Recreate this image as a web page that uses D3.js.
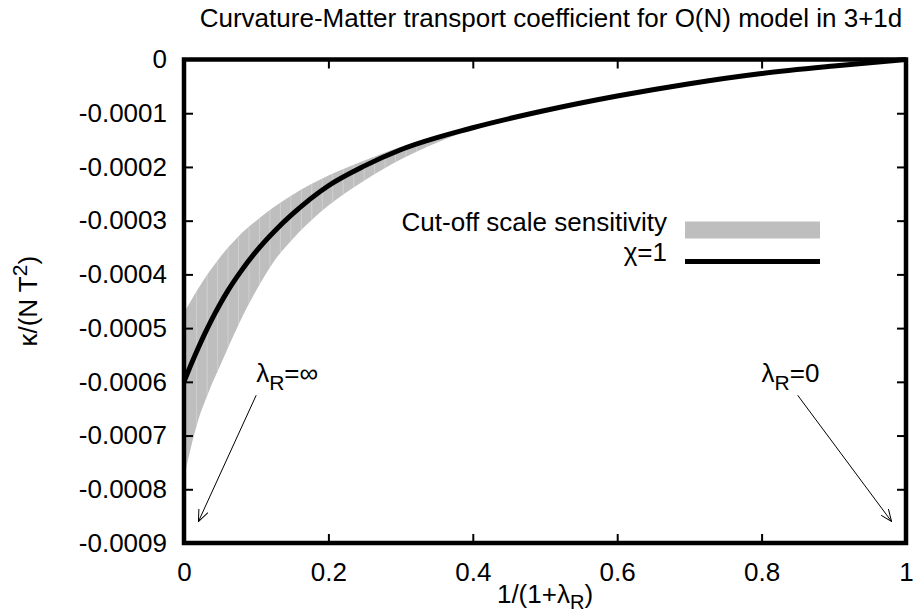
<!DOCTYPE html>
<html>
<head>
<meta charset="utf-8">
<script src="https://cdn.jsdelivr.net/npm/d3@7"></script>
<style>
  body { margin: 0; background: #fff; }
  svg { font-family: "Liberation Sans", Arial, Helvetica, sans-serif; }
  .tick line { stroke: #000; stroke-width: 2; }
  .tick text { font-size: 26px; fill: #000; }
</style>
</head>
<body>
<div id="chart"></div>
<script>

// curve chi=1, kappa/(N T^2) against 1/(1+lambda_R)
let curveX = [0, 0.01, 0.02, 0.03, 0.04, 0.05, 0.06, 0.08, 0.1, 0.125, 0.15, 0.2, 0.25, 0.3, 0.4, 0.5, 0.6, 0.7, 0.8, 0.9, 1];
let curveY = [-0.000600, -0.000567, -0.000536, -0.000507, -0.000480, -0.000455, -0.000432, -0.000392, -0.000357, -0.000320, -0.000288, -0.000235, -0.000198, -0.000168, -0.000127, -0.000095, -0.000068, -0.000045, -0.000026, -0.000012, 0];

// cut-off scale sensitivity band
let bandX = [0, 0.01, 0.02, 0.03, 0.04, 0.05, 0.075, 0.1, 0.125, 0.15, 0.2, 0.25, 0.3, 0.35, 0.4];
let bandHi = [-0.000472, -0.000448, -0.000426, -0.000405, -0.000386, -0.000368, -0.000330, -0.000300, -0.000274, -0.000252, -0.000216, -0.000188, -0.000163, -0.000144, -0.000127];
let bandLo = [-0.000780, -0.000720, -0.000670, -0.000633, -0.000600, -0.000570, -0.000495, -0.000430, -0.000375, -0.000335, -0.000272, -0.000225, -0.000186, -0.000155, -0.000129];

let xTicks = [0, 0.2, 0.4, 0.6, 0.8, 1];
let yTicks = [0, -0.0001, -0.0002, -0.0003, -0.0004, -0.0005, -0.0006, -0.0007, -0.0008, -0.0009];

let legendLabels = ["Cut-off scale sensitivity", "\u03c7=1"];

let width = 915, height = 612;
let margin = { top: 59.5, right: 9, bottom: 69, left: 184 };
let plotW = width - margin.left - margin.right;
let plotH = height - margin.top - margin.bottom;

let x = d3.scaleLinear().domain([0, 1]).range([0, plotW]);
let y = d3.scaleLinear().domain([-0.0009, 0]).range([plotH, 0]);

let svg = d3.select("#chart").append("svg")
  .attr("width", width)
  .attr("height", height);

let defs = svg.append("defs");
defs.append("marker")
  .attr("id", "arrow")
  .attr("viewBox", "0 0 12 10")
  .attr("refX", 12)
  .attr("refY", 5)
  .attr("markerWidth", 12)
  .attr("markerHeight", 10)
  .attr("markerUnits", "userSpaceOnUse")
  .attr("orient", "auto")
  .append("path")
  .attr("d", "M0,0 L12,5 L0,10")
  .attr("fill", "none")
  .attr("stroke", "#000")
  .attr("stroke-width", 1);

// title
svg.append("text")
  .attr("x", margin.left + plotW / 2 + 6)
  .attr("y", 27)
  .attr("text-anchor", "middle")
  .style("font-size", "26px")
  .text("Curvature-Matter transport coefficient for O(N) model in 3+1d");

let g = svg.append("g")
  .attr("transform", "translate(" + margin.left + "," + margin.top + ")");

let bandData = bandX.map(function(d, i) { return { x: d, hi: bandHi[i], lo: bandLo[i] }; });
let curveData = curveX.map(function(d, i) { return { x: d, y: curveY[i] }; });

let area = d3.area()
  .x(function(d) { return x(d.x); })
  .y0(function(d) { return y(d.lo); })
  .y1(function(d) { return y(d.hi); })
  .curve(d3.curveMonotoneX);

defs.append("clipPath")
  .attr("id", "band-clip")
  .append("path")
  .attr("d", area(bandData));

g.append("path")
  .attr("class", "band")
  .attr("d", area(bandData))
  .attr("fill", "#bebebe");

// faint seams in the filled band, as the original fill shows
g.append("g")
  .attr("clip-path", "url(#band-clip)")
  .selectAll("line")
  .data(d3.range(0.003, 0.4, 0.0145))
  .enter()
  .append("line")
  .attr("x1", function(d) { return x(d); })
  .attr("x2", function(d) { return x(d); })
  .attr("y1", 0)
  .attr("y2", plotH)
  .attr("stroke", "#d4d4d4")
  .attr("stroke-width", 0.8);

let line = d3.line()
  .x(function(d) { return x(d.x); })
  .y(function(d) { return y(d.y); })
  .curve(d3.curveMonotoneX);

g.append("path")
  .attr("d", line(curveData))
  .attr("fill", "none")
  .attr("stroke", "#000")
  .attr("stroke-width", 5)
  .attr("stroke-linejoin", "round");

// axes, ticks mirrored inward on every side
let yFormat = function(d) { return d === 0 ? "0" : d.toFixed(4); };

g.append("g")
  .call(d3.axisLeft(y).tickValues(yTicks).tickSize(-9).tickPadding(17).tickFormat(yFormat))
  .call(function(a) { a.select(".domain").remove(); });

g.append("g")
  .attr("transform", "translate(" + plotW + ",0)")
  .call(d3.axisRight(y).tickValues(yTicks).tickSize(-9).tickFormat(""))
  .call(function(a) { a.select(".domain").remove(); });

g.append("g")
  .attr("transform", "translate(0," + plotH + ")")
  .call(d3.axisBottom(x).tickValues(xTicks).tickSize(-9).tickPadding(20).tickFormat(function(d) { return String(d); }))
  .call(function(a) { a.select(".domain").remove(); });

g.append("g")
  .call(d3.axisTop(x).tickValues(xTicks).tickSize(-9).tickFormat(""))
  .call(function(a) { a.select(".domain").remove(); });

g.append("rect")
  .attr("width", plotW)
  .attr("height", plotH)
  .attr("fill", "none")
  .attr("stroke", "#000")
  .attr("stroke-width", 4.5);

// axis labels
let xl = svg.append("text")
  .attr("x", margin.left + plotW / 2)
  .attr("y", 603)
  .attr("text-anchor", "middle")
  .style("font-size", "26px");
xl.append("tspan").text("1/(1+\u03bb");
xl.append("tspan").attr("dy", 6).style("font-size", "20px").text("R");
xl.append("tspan").attr("dy", -6).text(")");

let yl = svg.append("text")
  .attr("transform", "translate(37," + (margin.top + plotH / 2) + ") rotate(-90)")
  .attr("text-anchor", "middle")
  .style("font-size", "26px");
yl.append("tspan").text("\u03ba/(N T");
yl.append("tspan").attr("dy", -10).style("font-size", "21px").text("2");
yl.append("tspan").attr("dy", 10).text(")");

// annotations
let notes = [
  { label: "\u221e", x: 0.1, y: -0.0006, fromX: 0.1, fromY: -0.000625, toX: 0.02, toY: -0.00086 },
  { label: "0", x: 0.8, y: -0.0006, fromX: 0.85, fromY: -0.000625, toX: 0.98, toY: -0.00086 }
];

notes.forEach(function(n) {
  let t = g.append("text")
    .attr("x", x(n.x))
    .attr("y", y(n.y))
    .style("font-size", "26px");
  t.append("tspan").text("\u03bb");
  t.append("tspan").attr("dy", 8).style("font-size", "21px").text("R");
  t.append("tspan").attr("dy", -8).text("=" + n.label);

  g.append("line")
    .attr("x1", x(n.fromX))
    .attr("y1", y(n.fromY))
    .attr("x2", x(n.toX))
    .attr("y2", y(n.toY))
    .attr("stroke", "#000")
    .attr("stroke-width", 1)
    .attr("marker-end", "url(#arrow)");
});

// legend
let legend = svg.append("g").attr("class", "legend");
legendLabels.forEach(function(label, i) {
  let rowY = 231 + i * 30;
  legend.append("text")
    .attr("x", 667)
    .attr("y", rowY)
    .attr("text-anchor", "end")
    .style("font-size", "26px")
    .text(label);
  if (i === 0) {
    legend.append("rect")
      .attr("x", 685)
      .attr("y", rowY - 9.5)
      .attr("width", 135)
      .attr("height", 17)
      .attr("fill", "#bebebe");
  } else {
    legend.append("line")
      .attr("x1", 685)
      .attr("x2", 820)
      .attr("y1", rowY + 0.5)
      .attr("y2", rowY + 0.5)
      .attr("stroke", "#000")
      .attr("stroke-width", 5);
  }
});

</script>
</body>
</html>
